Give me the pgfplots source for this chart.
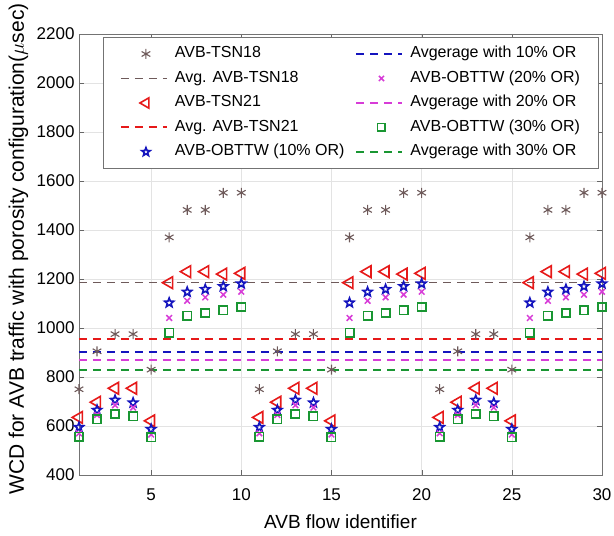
\documentclass[border=0pt]{standalone}
\usepackage{fontspec}
\setmainfont{Liberation Sans}
\usepackage{pgfplots}
\usepackage{pgfplotstable}
\pgfplotsset{compat=1.18}
\usetikzlibrary{plotmarks}
\definecolor{cbrown}{RGB}{110,90,90}
\definecolor{cred}{RGB}{230,25,25}
\definecolor{cblue}{RGB}{20,20,190}
\definecolor{cmag}{RGB}{215,60,215}
\definecolor{cgreen}{RGB}{25,150,50}
\pgfdeclareplotmark{pentagram}{%
  \pgfpathmoveto{\pgfpointpolar{90}{\pgfplotmarksize}}%
  \pgfpathlineto{\pgfpointpolar{126}{0.42\pgfplotmarksize}}%
  \pgfpathlineto{\pgfpointpolar{162}{\pgfplotmarksize}}%
  \pgfpathlineto{\pgfpointpolar{198}{0.42\pgfplotmarksize}}%
  \pgfpathlineto{\pgfpointpolar{234}{\pgfplotmarksize}}%
  \pgfpathlineto{\pgfpointpolar{270}{0.42\pgfplotmarksize}}%
  \pgfpathlineto{\pgfpointpolar{306}{\pgfplotmarksize}}%
  \pgfpathlineto{\pgfpointpolar{342}{0.42\pgfplotmarksize}}%
  \pgfpathlineto{\pgfpointpolar{18}{\pgfplotmarksize}}%
  \pgfpathlineto{\pgfpointpolar{54}{0.42\pgfplotmarksize}}%
  \pgfpathclose\pgfusepathqstroke}
\pgfplotstableread{
x tsn18 tsn21 o10 o20 o30
1 750 635 595 570 556
2 905 697 665 645 627
3 975 754 706 685 649
4 975 754 695 675 640
5 830 621 587 565 554
6 1370 1185 1103 1041 980
7 1482 1230 1147 1111 1050
8 1482 1230 1158 1125 1061
9 1552 1220 1170 1136 1073
10 1552 1223 1181 1148 1086
11 750 635 595 570 556
12 905 697 665 645 627
13 975 754 706 685 649
14 975 754 695 675 640
15 830 621 587 565 554
16 1370 1185 1103 1041 980
17 1482 1230 1147 1111 1050
18 1482 1230 1158 1125 1061
19 1552 1220 1170 1136 1073
20 1552 1223 1181 1148 1086
21 750 635 595 570 556
22 905 697 665 645 627
23 975 754 706 685 649
24 975 754 695 675 640
25 830 621 587 565 554
26 1370 1185 1103 1041 980
27 1482 1230 1147 1111 1050
28 1482 1230 1158 1125 1061
29 1552 1220 1170 1136 1073
30 1552 1223 1181 1148 1086
}\data
\pgfplotsset{
  avgline/.style={mark=none, legend image code/.code={\path[draw=none,fill=none] (0pt,-6pt) rectangle (46pt,6pt); \draw[##1] (0pt,0pt) -- (46pt,0pt);}},
  markleg/.style={only marks, legend image code/.code={\path[draw=none,fill=none] (0pt,-6pt) rectangle (46pt,6pt); \draw[##1, mark size=#1] plot coordinates {(25pt,0pt)};}},
}
\begin{document}
\begin{tikzpicture}
\path[use as bounding box] (-79pt,-61pt) rectangle (535pt,475pt);
\begin{axis}[
  at={(0,0)}, anchor=south west,
  width=523pt, height=441pt, scale only axis,
  xmin=1, xmax=30, ymin=400, ymax=2200,
  xtick={5,10,...,30}, ytick={400,600,...,2200},
  /pgf/number format/assume math mode=true,
  /pgf/number format/1000 sep={},
  tick label style={font=\fontsize{17}{20}\selectfont},
  xticklabel style={yshift=-10pt},
  yticklabel style={xshift=-1pt},
  grid=major, major grid style={gray!22},
  tick align=inside, major tick length=5pt,
  axis line style={black!55},
  tick style={black!60},
  xlabel={AVB flow identifier},
  ylabel={WCD for AVB traffic with porosity configuration($\mu$sec)},
  xlabel style={font=\fontsize{19}{22}\selectfont, at={(axis description cs:0.5,-0.1213)}, anchor=base},
  ylabel style={font=\fontsize{21}{24}\selectfont, at={(axis description cs:-0.1052,0.5125)}, anchor=base},
  legend style={at={(rel axis cs:0.993,0.993)}, anchor=north east,
    font=\fontsize{16}{19}\selectfont, draw=black!55, line width=0.8pt,
    nodes={inner sep=1pt, text height=11.5pt, text depth=3.5pt},
    row sep=7.5pt, column sep=6pt, inner xsep=17pt, inner ysep=8pt,
    /tikz/every even column/.append style={column sep=10pt},
    cells={anchor=west}},
  legend columns=5, transpose legend,
]
\addplot[markleg=5pt, cbrown, mark=asterisk, mark size=5pt, line width=1.1pt] table[x=x,y=tsn18]{\data};
\addlegendentry{AVB-TSN18}
\addplot[avgline, cbrown, dash pattern=on 8pt off 6pt, line width=1.3pt] coordinates {(1,1186.5) (30,1186.5)};
\addlegendentry{Avg. AVB-TSN18}
\addplot[markleg=6pt, cred, mark=triangle, mark size=6.8pt, line width=1.6pt, mark options={rotate=90}] table[x=x,y=tsn21]{\data};
\addlegendentry{AVB-TSN21}
\addplot[avgline, cred, dash pattern=on 8pt off 6pt, line width=2pt] coordinates {(1,955) (30,955)};
\addlegendentry{Avg. AVB-TSN21}
\addplot[markleg=4.4pt, cblue, mark=pentagram, mark size=4.8pt, line width=1.6pt] table[x=x,y=o10]{\data};
\addlegendentry{AVB-OBTTW (10\% OR)}
\addplot[avgline, cblue, dash pattern=on 8pt off 6pt, line width=2pt] coordinates {(1,901) (30,901)};
\addlegendentry{Avgerage with 10\% OR}
\addplot[markleg=3.6pt, cmag, mark=x, mark size=4pt, line width=1.5pt] table[x=x,y=o20]{\data};
\addlegendentry{AVB-OBTTW (20\% OR)}
\addplot[avgline, cmag, dash pattern=on 8pt off 6pt, line width=1.6pt] coordinates {(1,870) (30,870)};
\addlegendentry{Avgerage with 20\% OR}
\addplot[markleg=3.8pt, cgreen, mark=square, mark size=4.2pt, line width=1.6pt] table[x=x,y=o30]{\data};
\addlegendentry{AVB-OBTTW (30\% OR)}
\addplot[avgline, cgreen, dash pattern=on 8pt off 6pt, line width=2pt] coordinates {(1,828) (30,828)};
\addlegendentry{Avgerage with 30\% OR}
\end{axis}
\end{tikzpicture}
\end{document}
